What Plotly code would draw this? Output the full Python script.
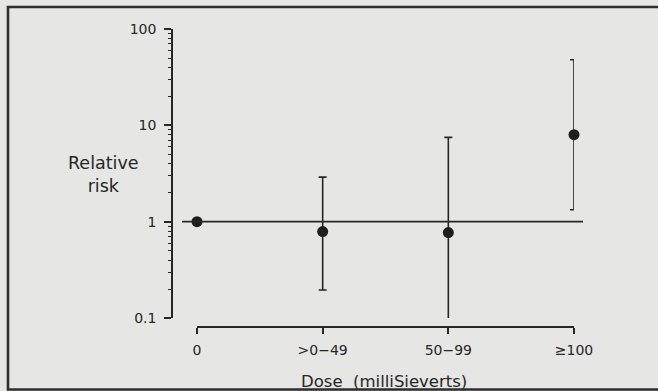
import plotly.graph_objects as go

categories = ["0", ">0\u221249", "50\u221299", "\u2265100"]
relative_risk = [1.0, 0.79, 0.77, 8.0]
ci_upper = [None, 2.9, 7.5, 48.0]
ci_lower = [None, 0.195, 0.094, 1.33]
y_major_ticks = [0.1, 1, 10, 100]
y_major_labels = ["0.1", "1", "10", "100"]
y_minor_ticks = [m * d for d in (0.1, 1, 10) for m in range(2, 10)]
reference_level = 1.0

xpos = list(range(len(categories)))
err_plus = [0 if u is None else u - v for u, v in zip(ci_upper, relative_risk)]
err_minus = [0 if l is None else v - l for l, v in zip(ci_lower, relative_risk)]
show_err = [u is not None for u in ci_upper]

W_PX = 428  # plot width in px (172..600)
H_PX = 298  # plot height in px (29..327)
L, T = 172, 29

def px_x(p):
    return (p - L) / W_PX

def px_y(p):
    return 1 - (p - T) / H_PX

ink = "#262626"
font_family = "DejaVu Sans, Liberation Sans, Arial, sans-serif"

fig = go.Figure()

# error bars (only where a CI exists)
fig.add_trace(go.Scatter(
    x=[x for x, s in zip(xpos, show_err) if s],
    y=[v for v, s in zip(relative_risk, show_err) if s],
    mode="markers",
    marker=dict(size=1, color="rgba(0,0,0,0)"),
    error_y=dict(type="data", symmetric=False,
                 array=[e for e, s in zip(err_plus, show_err) if s],
                 arrayminus=[e for e, s in zip(err_minus, show_err) if s],
                 color=ink, thickness=1.6, width=4),
    cliponaxis=False, showlegend=False, hoverinfo="skip",
))

# points
fig.add_trace(go.Scatter(
    x=xpos, y=relative_risk, mode="markers",
    marker=dict(size=11, color="#1e1e1e"),
    cliponaxis=False, showlegend=False,
))

fig.update_layout(
    width=658, height=391,
    margin=dict(l=L, r=658 - L - W_PX, t=T, b=391 - T - H_PX, pad=0),
    paper_bgcolor="#e6e6e4", plot_bgcolor="rgba(0,0,0,0)",
    font=dict(family=font_family, size=14, color=ink),
    xaxis=dict(
        domain=[px_x(197), px_x(574)],
        range=[0, len(categories) - 1],
        tickmode="array", tickvals=xpos, ticktext=categories,
        showline=True, linecolor=ink, linewidth=1.6,
        ticks="outside", ticklen=6, tickwidth=1.6, tickcolor=ink,
        ticklabelstandoff=4,
        showgrid=False, zeroline=False,
        anchor="free", position=0,
        tickfont=dict(size=14),
    ),
    yaxis=dict(
        type="log", range=[-1, 2],
        domain=[px_y(318), 1],
        tickmode="array", tickvals=y_major_ticks, ticktext=y_major_labels,
        showline=True, linecolor=ink, linewidth=1.6,
        ticks="outside", ticklen=7, tickwidth=1.6, tickcolor=ink,
        ticklabelstandoff=5,
        minor=dict(tickmode="array", tickvals=y_minor_ticks, ticks="outside",
                   ticklen=3, tickwidth=1.2, tickcolor=ink, showgrid=False),
        showgrid=False, zeroline=False,
        anchor="free", position=0,
        tickfont=dict(size=14),
    ),
    shapes=[
        dict(type="line", xref="paper", yref="y",
             x0=px_x(182), x1=px_x(583), y0=reference_level, y1=reference_level,
             line=dict(color=ink, width=1.6)),
        dict(type="rect", xref="paper", yref="paper",
             x0=px_x(8), x1=px_x(668), y0=px_y(389.5), y1=px_y(7),
             line=dict(color="#2e2e2e", width=2.6), layer="below"),
    ],
    annotations=[
        dict(text="Relative<br>risk", xref="paper", yref="paper",
             x=px_x(103), y=px_y(174), xanchor="center", yanchor="middle",
             showarrow=False, font=dict(size=17.5, color=ink), align="center"),
        dict(text="Dose  (milliSieverts)", xref="paper", yref="paper",
             x=px_x(384), y=px_y(381), xanchor="center", yanchor="middle",
             showarrow=False, font=dict(size=16.5, color=ink)),
    ],
)

fig.write_html("out.html", config={"displayModeBar": False},
               post_script="document.body.style.margin='0px';document.body.style.overflow='hidden';")
